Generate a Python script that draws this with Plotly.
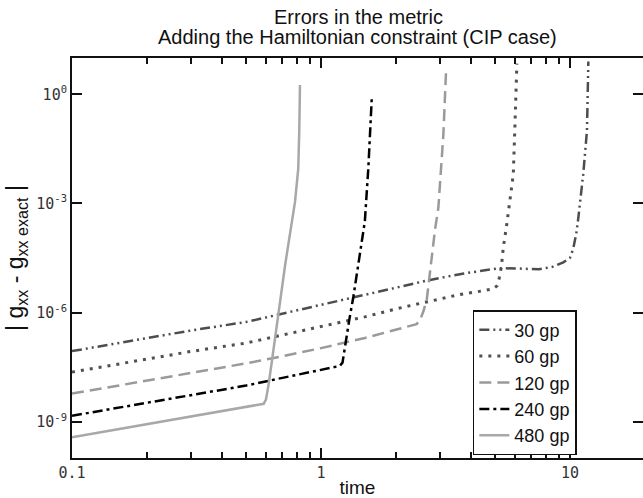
import plotly.graph_objects as go

# Error curves |g_xx - g_xx exact| versus time for each grid resolution
t_30 = [0.1, 0.2, 0.3, 0.5, 0.7, 1.0, 1.5, 2.0, 2.74, 3.7, 5.2, 6.2, 7.5, 8.5, 9.4,
        10.0, 10.3, 10.6, 10.8, 11.3, 11.7, 11.85]
e_30 = [8.7e-8, 2.0e-7, 3.2e-7, 5.5e-7, 9.3e-7, 1.62e-6, 3.0e-6, 4.9e-6, 7.9e-6,
        1.17e-5, 1.66e-5, 1.62e-5, 1.55e-5, 1.8e-5, 2.4e-5, 3.2e-5, 5.6e-5, 1.5e-4,
        4.0e-4, 6.3e-3, 1.0e-1, 8.0e0]

t_60 = [0.1, 0.2, 0.3, 0.5, 0.7, 1.0, 1.5, 2.0, 2.66, 3.5, 4.5, 4.92, 5.1, 5.2, 5.3,
        5.4, 5.57, 5.92, 6.01, 6.1, 6.12]
e_60 = [2.3e-8, 5.2e-8, 8.5e-8, 1.45e-7, 2.4e-7, 4.0e-7, 7.6e-7, 1.26e-6, 2.0e-6,
        3.0e-6, 4.0e-6, 4.5e-6, 5.5e-6, 9.0e-6, 1.8e-5, 6.3e-5, 2.6e-4, 6.3e-3,
        1.4e-1, 2.0e0, 7.0e0]

t_120 = [0.1, 0.2, 0.3, 0.5, 0.7, 1.0, 1.5, 2.0, 2.42, 2.5, 2.58, 2.66, 2.78, 2.87,
         2.96, 3.10, 3.18]
e_120 = [5.9e-9, 1.35e-8, 2.2e-8, 4.0e-8, 6.3e-8, 1.05e-7, 2.0e-7, 3.4e-7, 4.8e-7,
         6.2e-7, 1.1e-6, 2.3e-6, 3.5e-5, 1.9e-4, 7.6e-4, 7.6e-2, 4.7e0]

t_240 = [0.1, 0.2, 0.3, 0.5, 0.7, 1.0, 1.19, 1.22, 1.25, 1.3, 1.35, 1.46, 1.5, 1.55,
         1.58, 1.6]
e_240 = [1.45e-9, 3.3e-9, 5.5e-9, 9.8e-9, 1.6e-8, 2.6e-8, 3.4e-8, 4.2e-8, 1.3e-7,
         6.5e-7, 2.8e-6, 1.0e-4, 3.2e-4, 1.0e-2, 1.0e-1, 8.3e-1]

t_480 = [0.1, 0.2, 0.3, 0.4, 0.5, 0.57, 0.5886, 0.6013, 0.6166, 0.6356, 0.6761,
         0.7189, 0.7863, 0.8103, 0.818, 0.8234]
e_480 = [3.7e-10, 8.5e-10, 1.4e-9, 2.0e-9, 2.6e-9, 2.95e-9, 3.1e-9, 4.1e-9, 1.1e-8,
         4.8e-8, 9.3e-7, 2.2e-5, 1.1e-3, 9.1e-3, 1.0e-1, 1.8e0]

series_names = ["30 gp", "60 gp", "120 gp", "240 gp", "480 gp"]

title_line1 = "Errors in the metric"
title_line2 = "Adding the Hamiltonian constraint (CIP case)"

x_major = [0.1, 1, 10]
x_major_text = ["0.1", "1", "10"]
x_minor = [0.2, 0.3, 0.4, 0.5, 0.6, 0.7, 0.8, 0.9, 2, 3, 4, 5, 6, 7, 8, 9]
y_major = [1e0, 1e-3, 1e-6, 1e-9]
y_major_text = ["10<sup>0</sup>", "10<sup>-3</sup>", "10<sup>-6</sup>", "10<sup>-9</sup>"]

styles = [
    dict(color="#4d4d4d", width=2.5, dash="10px,4px,2px,4px,2px,4px"),
    dict(color="#505050", width=3, dash="3px,6px"),
    dict(color="#9a9a9a", width=2.5, dash="12px,6px"),
    dict(color="#000000", width=2.5, dash="10px,4px,3px,4px"),
    dict(color="#a8a8a8", width=2.5),
]

fig = go.Figure()
for name, xs, ys, st in zip(series_names,
                            [t_30, t_60, t_120, t_240, t_480],
                            [e_30, e_60, e_120, e_240, e_480],
                            styles):
    fig.add_trace(go.Scatter(x=xs, y=ys, mode="lines", name=name, line=st))

# placeholder trace so the right-hand tick axis is drawn
fig.add_trace(go.Scatter(x=[None], y=[None], yaxis="y2", showlegend=False,
                         hoverinfo="skip"))

tick_font = dict(family="DejaVu Sans Mono", size=15, color="#333333")
txt_font = "Liberation Sans, Arial, Helvetica, sans-serif"
title_font = dict(family=txt_font, size=20, color="#111111")

fig.update_layout(
    width=643, height=498,
    margin=dict(l=72, r=0, t=58, b=40),
    paper_bgcolor="white", plot_bgcolor="white",
    title=dict(text=title_line1, x=0.5575, xanchor="center",
               y=1 - 17 / 498, yanchor="middle", yref="container", font=title_font),
    annotations=[dict(text=title_line2, xref="paper", yref="paper",
                      x=0.5, y=1.0 + 21 / 400, xanchor="center", yanchor="middle",
                      showarrow=False, font=title_font)],
    xaxis=dict(type="log", range=[-1, 1.2932], showgrid=False, zeroline=False,
               showline=True, linecolor="#111111", linewidth=2, mirror="ticks",
               tickmode="array", tickvals=x_major, ticktext=x_major_text,
               ticks="inside", ticklen=10, tickwidth=2, tickcolor="#111111",
               tickfont=tick_font,
               minor=dict(tickmode="array", tickvals=x_minor, ticks="inside",
                          ticklen=6, tickwidth=1.5, tickcolor="#111111"),
               title=dict(text="time", standoff=4,
                          font=dict(family=txt_font, size=19, color="#111111"))),
    yaxis=dict(type="log", range=[-10, 1], showgrid=False, zeroline=False,
               showline=True, linecolor="#111111", linewidth=2,
               tickmode="array", tickvals=y_major, ticktext=y_major_text,
               ticks="inside", ticklen=10, tickwidth=2, tickcolor="#111111",
               tickfont=tick_font,
               title=dict(text="| g<sub>xx</sub> - g<sub>xx exact</sub> |", standoff=6,
                          font=dict(family=txt_font, size=23, color="#111111"))),
    yaxis2=dict(type="log", range=[-10, 1], overlaying="y", side="right", anchor="x",
                showgrid=False, zeroline=False, showline=False,
                tickmode="array", tickvals=y_major, showticklabels=False,
                ticks="inside", ticklen=10, tickwidth=2, tickcolor="#111111"),
    legend=dict(x=0.702, y=0.37, xanchor="left", yanchor="top",
                bgcolor="white", bordercolor="#111111", borderwidth=1.5,
                font=dict(family=txt_font, size=18, color="#111111"),
                itemwidth=30, tracegroupgap=0),
    showlegend=True,
)

fig.write_html("out.html")
